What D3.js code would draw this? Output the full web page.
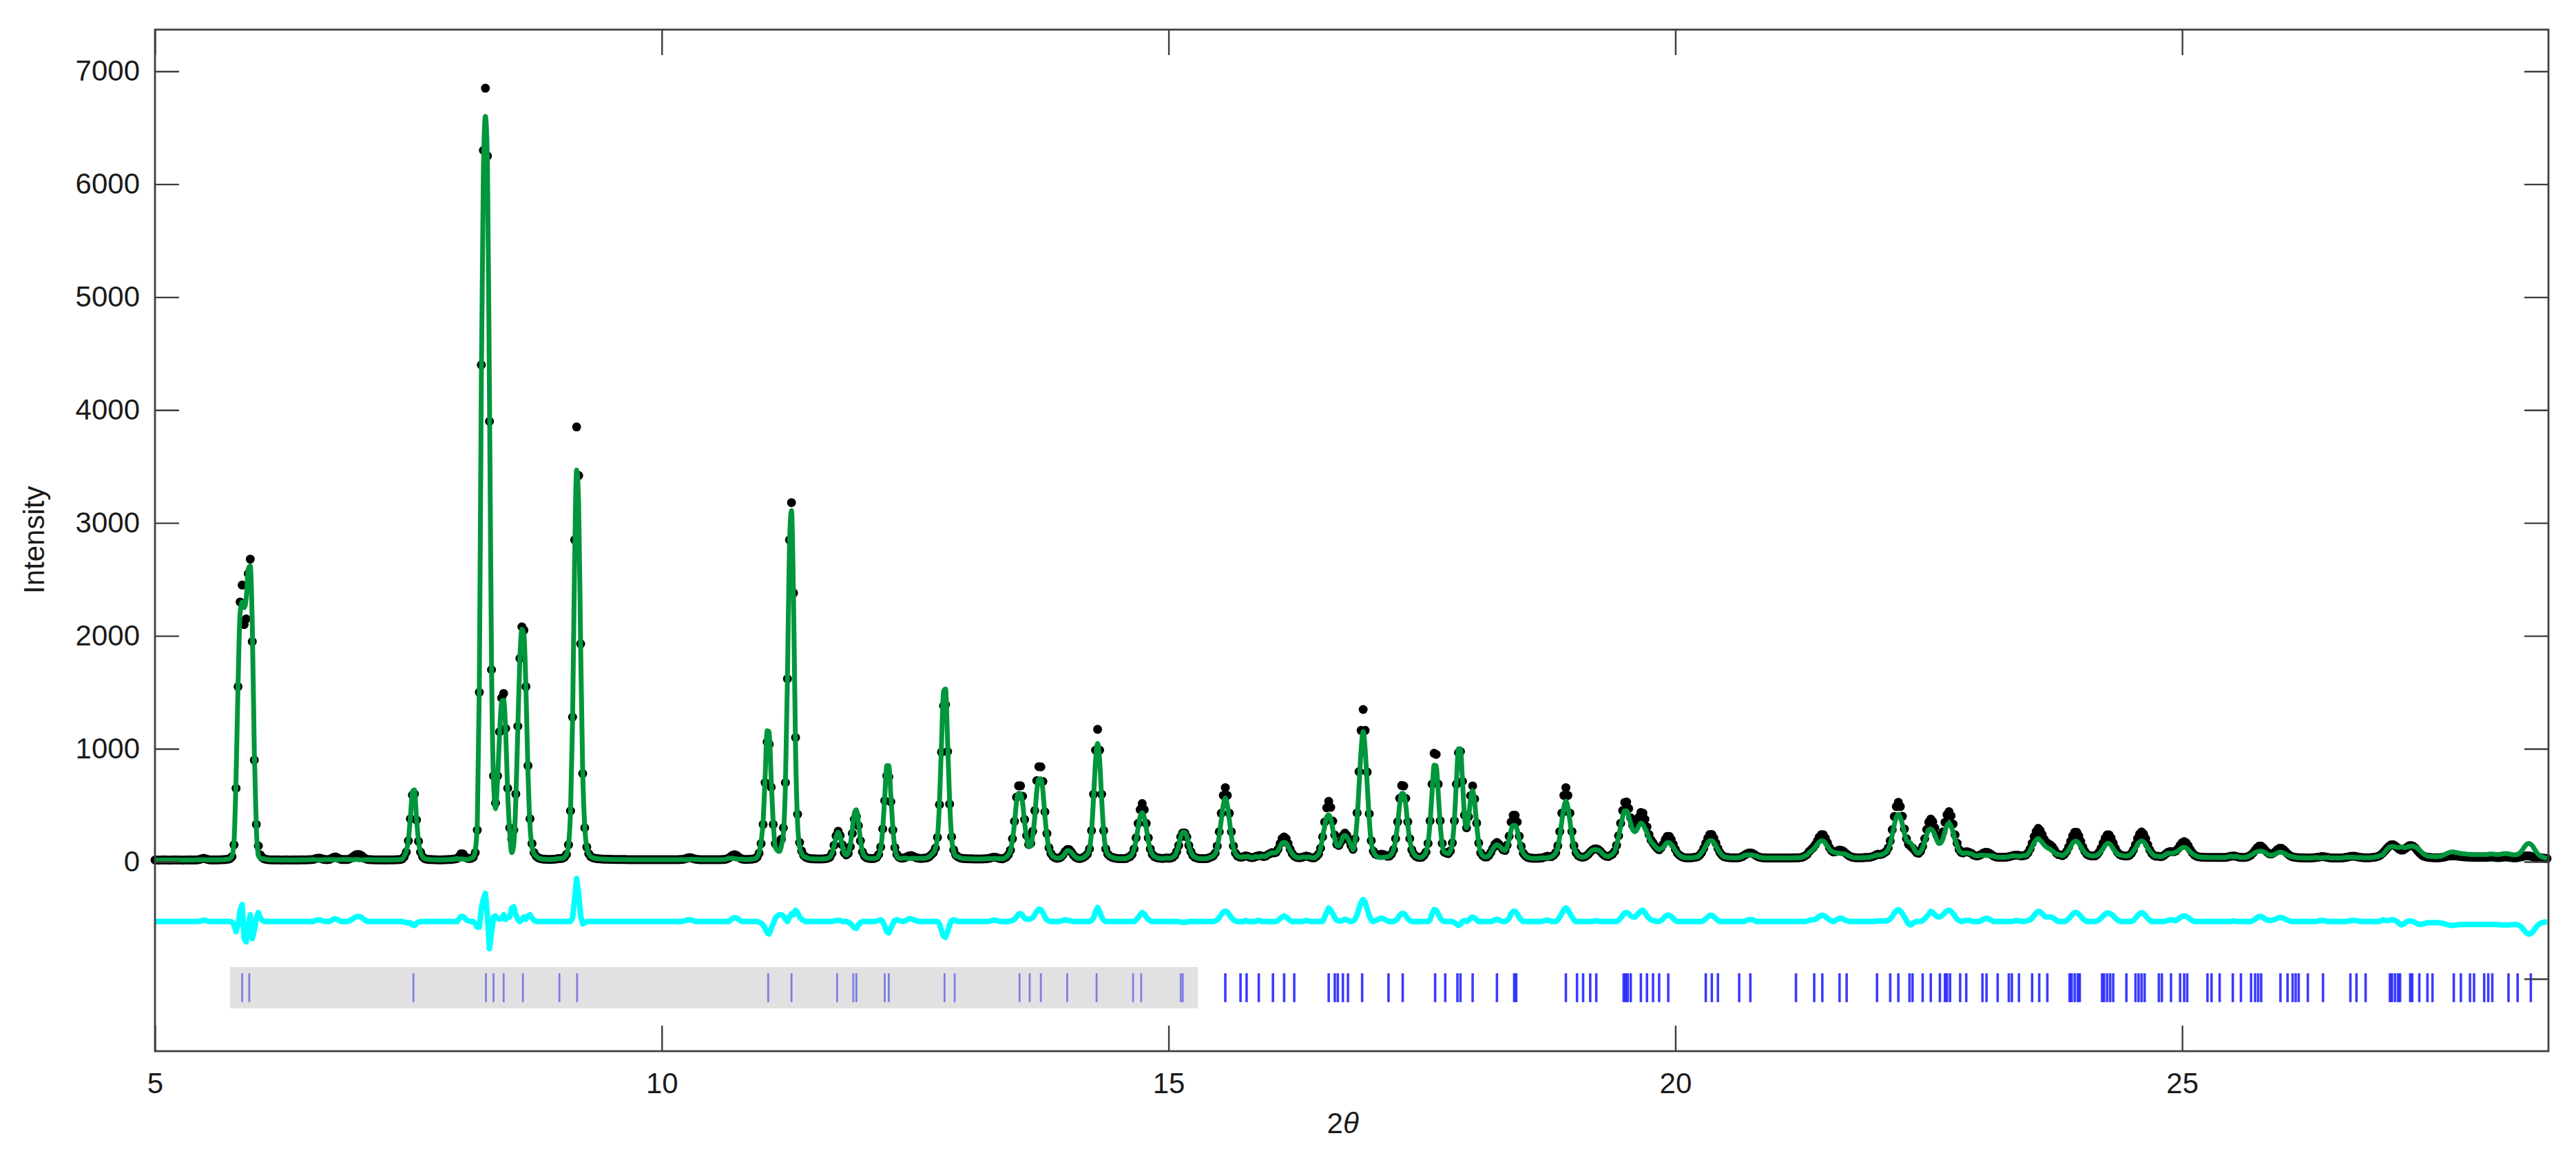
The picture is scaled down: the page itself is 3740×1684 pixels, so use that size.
<!DOCTYPE html>
<html>
<head>
<meta charset="utf-8">
<script src="https://cdn.jsdelivr.net/npm/d3@7"></script>
<style>
  body { margin: 0; background: #fff; }
  .axis text { font-family: "Liberation Sans", Arial, sans-serif; font-size: 42px; fill: #1a1a1a; }
  .axis line { stroke: #3c3c3c; stroke-width: 2.4; }
</style>
</head>
<body>
<svg id="svg_rietveld" width="3740" height="1684"></svg>
<script>
// powder pattern, 2theta grid: start + step * index
var tthStart = 5, tthStep = 0.02;

// observed intensity, one row per 0.5 deg
var yObs = [
  15,15,14,15,16,15,15,14,15,15,16,15,15,15,14,15,15,16,15,15,16,17,20,26,30,
  26,20,17,16,16,16,17,17,18,18,20,22,28,45,150,650,1550,2300,2450,2100,2150,2550,2680,1950,900,
  330,140,60,35,25,20,18,17,17,16,16,16,15,15,16,16,15,15,15,16,15,16,16,17,17,
  17,18,18,20,25,30,32,28,22,19,18,20,28,38,42,36,26,20,19,19,20,24,34,48,60,
  64,62,52,36,25,20,18,18,17,17,17,16,16,16,16,17,17,17,17,18,18,19,25,45,85,
  185,380,590,600,370,180,85,45,28,22,20,19,18,18,17,17,17,17,18,18,19,20,22,24,28,
  45,70,68,45,30,28,30,40,80,280,1500,4400,6300,6850,6250,3900,1700,760,520,760,1150,1450,1490,1180,650,
  300,200,280,600,1200,1800,2080,2050,1550,850,380,160,80,50,35,28,24,22,21,20,20,21,22,24,28,
  28,30,40,65,150,450,1280,2850,3850,3420,1930,780,300,130,70,45,35,30,27,25,24,23,22,22,21,
  21,20,20,20,19,19,19,19,18,18,18,18,18,18,18,18,18,18,18,18,18,18,18,18,18,
  18,18,18,18,18,18,18,18,18,19,20,23,28,34,36,32,25,21,19,18,18,18,18,18,18,
  18,18,18,18,18,19,20,24,32,45,58,62,55,40,28,22,20,20,21,22,24,28,40,75,160,
  330,700,1060,1040,660,330,160,150,150,200,300,700,1620,2850,3180,2380,1100,420,170,95,55,40,32,28,26,
  25,24,24,24,24,25,27,32,42,75,145,230,270,232,150,80,60,74,133,250,375,400,318,185,87,
  49,35,30,28,28,30,38,65,130,290,540,760,750,530,280,125,65,40,32,32,36,44,52,54,48,
  40,33,30,29,30,32,36,45,62,80,120,215,505,970,1380,1390,975,510,220,105,60,45,35,30,28,
  27,26,25,25,24,24,24,24,24,25,26,28,32,37,40,38,32,27,25,32,42,62,102,203,357,
  571,672,672,579,374,232,152,162,269,452,718,842,840,711,442,249,123,72,47,35,30,33,42,62,90,
  108,108,88,60,42,32,28,30,38,50,68,114,275,597,988,1172,988,597,275,114,68,50,40,34,30,
  28,27,27,27,28,37,45,64,113,211,339,461,515,461,339,211,113,64,45,37,32,30,29,30,33,
  30,32,39,53,89,144,219,255,255,219,144,89,53,39,32,28,27,27,27,28,35,42,51,76,139,
  265,429,587,656,587,429,265,139,76,51,42,40,45,52,48,40,36,38,45,52,54,50,46,50,62,
  72,80,78,82,110,160,205,220,205,160,110,72,50,40,36,36,40,46,50,46,38,34,35,48,68,
  119,220,351,477,535,481,359,236,155,144,176,229,253,232,189,144,110,202,432,798,1163,1348,1163,794,424,
  186,94,68,60,62,66,64,56,48,50,68,106,204,353,561,675,670,561,353,204,106,67,48,40,38,
  40,57,85,162,362,687,960,950,687,362,162,85,76,72,95,167,362,687,965,975,712,412,300,399,584,
  671,555,342,166,78,53,42,42,55,83,120,155,170,155,130,105,100,146,226,352,411,411,352,226,135,
  75,52,40,34,31,30,30,30,31,33,38,44,48,46,46,58,80,141,267,430,587,656,587,430,267,
  141,80,55,45,40,42,50,65,85,102,112,114,108,92,72,56,48,46,56,67,90,145,230,340,453,
  525,529,471,388,322,305,338,394,436,430,376,308,241,193,167,140,119,106,124,154,196,224,224,196,154,
  110,76,58,46,38,35,34,34,35,37,40,45,58,81,118,165,210,241,241,210,165,118,81,58,45,
  40,37,35,34,34,34,35,38,45,56,68,76,78,74,64,52,43,38,35,34,33,33,33,33,33,
  33,33,33,33,33,33,33,33,34,34,34,35,37,42,52,65,90,108,126,150,183,218,239,239,209,
  168,126,98,86,89,97,104,101,91,76,61,49,41,37,35,35,35,35,36,37,38,40,44,50,60,
  66,64,68,78,90,122,185,283,400,488,526,488,402,290,204,155,137,122,102,80,75,92,135,204,285,
  350,378,354,300,235,201,211,264,349,416,443,406,334,238,163,107,82,78,87,88,82,75,60,53,51,
  56,66,78,83,82,74,62,50,43,40,39,39,39,40,42,46,52,56,58,57,53,52,54,60,80,
  113,163,223,268,295,275,239,197,171,158,148,131,105,77,63,59,53,66,91,130,181,229,261,261,229,
  181,130,91,66,56,52,51,51,63,85,120,165,208,237,237,208,165,120,85,66,56,53,50,51,56,
  74,106,151,205,245,263,245,205,151,106,74,56,49,49,46,46,55,70,84,89,89,89,97,116,146,
  168,178,167,142,108,80,60,49,44,41,40,39,38,38,38,38,38,37,37,37,37,38,40,44,48,
  50,50,46,41,38,37,38,42,49,60,78,101,123,138,138,123,101,83,70,69,76,89,107,118,118,
  107,89,70,56,46,41,38,36,35,34,34,33,33,33,34,35,37,40,43,45,44,41,37,34,33,
  33,33,33,33,34,36,39,43,47,49,48,45,41,38,36,35,35,35,36,38,40,44,50,61,77,
  96,118,136,149,150,141,127,111,103,104,114,129,141,143,137,121,100,79,62,50,44,40,37,36,35,
  34,34,35,37,40,44,48,51,52,52,51,49,47,45,43,42,41,40,39,39,38,38,38,38,38,
  38,40,42,42,40,37,36,37,40,42,42,40,37,35,34,35,38,42,46,50,52,51,48,44,40,
  38,36,34,32,30,28
];

// difference yObs - yCalc, same grid
var yDiff = [
  0,0,0,0,0,0,0,0,0,0,0,0,0,0,0,0,0,0,0,0,0,0,3,8,12,
  10,4,0,0,0,0,0,0,0,0,0,0,0,-5,-30,-90,-30,100,150,-150,-180,-40,60,-150,-80,
  30,80,30,10,0,0,0,0,0,0,0,0,0,0,0,0,0,0,0,0,0,0,0,0,0,
  0,0,0,0,8,13,15,11,5,0,0,0,10,20,25,19,9,0,0,0,0,6,16,30,40,
  45,45,35,20,8,0,0,0,0,0,0,0,0,0,0,0,0,0,0,0,0,0,0,-5,-10,
  -10,-10,-30,-35,-15,-5,0,0,0,0,0,0,0,0,0,0,0,0,0,0,0,0,0,0,0,
  25,45,45,25,10,5,0,0,-20,-50,-50,120,200,250,50,-240,-100,40,50,30,20,30,60,20,40,
  40,120,130,60,20,0,20,40,20,50,60,30,10,0,0,0,0,0,0,0,0,0,0,0,0,
  0,0,0,0,0,0,30,200,380,250,50,-20,-10,0,0,0,0,0,0,0,0,0,0,0,0,
  0,0,0,0,0,0,0,0,0,0,0,0,0,0,0,0,0,0,0,0,0,0,0,0,0,
  0,0,0,0,0,0,0,0,0,0,0,5,10,15,15,10,5,0,0,0,0,0,0,0,0,
  0,0,0,0,0,0,0,0,0,15,28,35,30,18,5,0,0,0,0,0,0,0,0,-5,-15,
  -30,-60,-100,-110,-60,-20,30,50,60,60,50,20,0,40,70,60,100,80,40,20,10,0,0,0,0,
  0,0,0,0,0,0,0,0,0,0,5,10,10,10,0,0,0,-5,-15,-35,-55,-60,-30,-10,0,
  0,0,0,0,0,0,5,10,15,0,-40,-90,-100,-60,-20,10,15,10,5,0,5,15,25,25,18,
  10,5,0,0,0,0,0,0,0,0,0,0,-20,-80,-130,-140,-90,-30,10,15,10,0,0,0,0,
  0,0,0,0,0,0,0,0,0,0,0,0,5,10,12,10,5,0,0,0,0,0,5,10,20,
  40,65,70,55,30,20,20,25,35,60,90,110,105,80,40,15,5,0,0,0,0,0,5,10,15,
  10,10,5,0,0,0,0,0,0,0,0,0,10,30,90,125,90,40,10,0,0,0,0,0,0,
  0,0,0,0,0,0,0,0,0,15,35,60,80,65,40,20,5,0,0,0,0,0,0,0,0,
  0,0,0,0,0,0,-5,-5,-5,-5,0,0,0,0,0,0,0,0,0,0,0,0,0,5,15,
  35,60,85,92,85,60,35,15,5,0,0,0,0,10,0,0,0,0,0,10,10,0,0,0,0,
  0,0,0,0,10,25,40,50,40,25,10,0,0,0,0,0,0,5,10,5,0,0,0,0,0,
  0,0,40,80,120,100,70,35,10,5,5,10,20,15,5,0,5,20,60,120,170,195,170,110,50,
  15,0,10,15,25,30,25,15,5,0,0,0,10,25,55,70,70,55,25,10,0,0,0,0,0,
  0,0,0,0,15,70,105,100,70,30,10,0,0,0,0,0,-10,-20,-35,-25,0,10,0,10,30,
  40,30,15,0,0,0,0,0,0,0,5,15,20,15,5,0,0,10,30,70,90,90,70,35,15,
  0,0,0,0,0,0,0,0,0,0,5,10,12,8,0,0,0,15,40,70,105,120,105,70,40,
  15,0,0,0,0,0,0,0,0,0,5,8,5,0,0,0,0,0,0,0,0,0,10,30,55,
  75,80,70,50,40,40,55,75,95,100,80,50,30,15,10,5,0,0,10,25,45,55,55,45,25,
  10,0,0,0,0,0,0,0,0,0,0,0,0,0,10,25,40,55,55,40,25,10,0,0,0,
  0,0,0,0,0,0,0,0,0,0,10,15,18,15,10,0,0,0,0,0,0,0,0,0,0,
  0,0,0,0,0,0,0,0,0,0,0,0,0,0,0,5,10,15,15,20,30,45,55,55,45,
  30,15,5,0,10,20,30,30,20,10,5,0,0,0,0,0,0,0,0,0,0,0,0,0,5,
  5,5,5,5,5,10,25,45,75,95,105,95,70,40,10,-20,-30,-20,-5,0,0,0,10,25,45,
  65,90,80,60,45,40,45,60,80,95,100,90,70,45,20,10,0,5,10,10,10,5,0,0,0,
  0,10,20,28,28,20,10,0,0,0,0,0,0,0,0,0,0,5,8,8,5,0,0,5,10,
  15,30,55,75,90,85,70,50,40,40,40,35,25,10,0,0,0,0,10,25,45,65,80,80,65,
  45,25,10,0,0,0,0,0,5,15,30,50,65,75,75,65,50,30,15,5,0,0,0,0,0,
  0,10,30,50,70,80,70,50,30,10,0,0,0,0,0,0,0,5,10,15,15,10,10,20,35,
  45,50,45,35,20,10,0,0,0,0,0,0,0,0,0,0,0,0,0,0,0,0,0,0,0,
  5,5,0,0,0,0,0,0,0,0,10,20,35,45,45,35,20,15,10,10,15,20,30,35,35,
  30,20,12,5,0,0,0,0,0,0,0,0,0,0,0,0,0,5,8,10,8,5,0,0,0,
  0,0,0,0,0,0,0,5,8,10,10,8,5,0,0,0,0,0,0,0,0,0,0,5,15,
  10,10,10,15,15,10,0,-15,-30,-25,-10,0,5,5,0,-10,-20,-25,-25,-20,-15,-10,-10,-10,-10,
  -10,-10,-12,-14,-18,-24,-28,-32,-34,-34,-31,-29,-27,-27,-27,-26,-25,-25,-25,-25,-26,-26,-26,-26,-26,
  -26,-26,-26,-26,-26,-27,-28,-29,-30,-30,-30,-30,-29,-27,-26,-27,-32,-43,-62,-85,-103,-111,-107,-91,-65,
  -42,-24,-14,-8,-4,-2
];

// reflection positions (2theta)
var hklPhase1 = [5.86, 5.93, 7.55, 8.265, 8.34, 8.44, 8.63, 8.99, 9.165, 11.05, 11.28, 11.73, 11.89, 11.92,
  12.20, 12.24, 12.79, 12.89, 13.53, 13.63, 13.74, 14.00, 14.29, 14.65, 14.73, 15.12, 15.14];
var hklPhase2 = [15.56, 15.71, 15.77, 15.89, 16.03, 16.14, 16.24, 16.58, 16.64, 16.67, 16.72, 16.77, 16.91,
  17.17, 17.31, 17.63, 17.73, 17.85, 17.88, 18.00, 18.24, 18.41, 18.43, 18.92, 19.03, 19.09, 19.16, 19.22,
  19.49, 19.51, 19.53, 19.56, 19.66, 19.72, 19.78, 19.84, 19.93, 20.30, 20.36, 20.42, 20.63, 20.74,
  21.19, 21.37, 21.45, 21.62, 21.69, 21.99, 22.12, 22.20, 22.31, 22.34, 22.44, 22.52, 22.61, 22.66, 22.68,
  22.71, 22.81, 22.87, 23.03, 23.07, 23.18, 23.29, 23.32, 23.39, 23.52, 23.59, 23.67, 23.89, 23.91, 23.94,
  23.97, 23.99, 24.21, 24.23, 24.26, 24.29, 24.32, 24.45, 24.54, 24.57, 24.60, 24.63, 24.77, 24.80, 24.89,
  24.98, 25.02, 25.05, 25.25, 25.29, 25.37, 25.50, 25.58, 25.68, 25.72, 25.75, 25.78, 25.97, 26.04, 26.09,
  26.12, 26.15, 26.24, 26.39, 26.66, 26.72, 26.81, 27.05, 27.07, 27.10, 27.13, 27.15, 27.25, 27.27, 27.34,
  27.42, 27.47, 27.68, 27.75, 27.84, 27.88, 27.98, 28.02, 28.06, 28.22, 28.31, 28.44];

var xTicks = [5, 10, 15, 20, 25];
var yTicks = [0, 1000, 2000, 3000, 4000, 5000, 6000, 7000];
var diffOffset = -530;          // difference curve shifted below zero
var hklLevel = [-988, -1244];   // y range of the reflection bars
var hklBoxY = [-933, -1299];
var hklBoxX = [5.74, 15.29];
var hklMark = -1037;

var svg = d3.select("#svg_rietveld"),
    margin = {top: 43, right: 40, bottom: 158, left: 225},
    width = 3740 - margin.left - margin.right,
    height = 1684 - margin.top - margin.bottom,
    g = svg.append("g").attr("transform", "translate(" + margin.left + "," + margin.top + ")");

var x = d3.scaleLinear().domain([5, 28.614]).range([0, width]);
var y = d3.scaleLinear().domain([-1678, 7369]).range([height, 0]);

var data = yObs.map(function(v, i) {
  return {tth: tthStart + i * tthStep, obs: v, calc: v - yDiff[i], diff: yDiff[i]};
});

// grey band behind first phase reflections
g.append("rect")
  .attr("x", x(hklBoxX[0]))
  .attr("width", x(hklBoxX[1]) - x(hklBoxX[0]))
  .attr("y", y(hklBoxY[0]))
  .attr("height", y(hklBoxY[1]) - y(hklBoxY[0]))
  .attr("fill", "#e1e1e1");

g.selectAll(".hkl1")
  .data(hklPhase1)
  .enter().append("line")
    .attr("class", "hkl1")
    .attr("x1", function(d) { return x(d); })
    .attr("x2", function(d) { return x(d); })
    .attr("y1", y(hklLevel[0]))
    .attr("y2", y(hklLevel[1]))
    .attr("stroke", "#5c5ce6")
    .attr("stroke-opacity", 0.75)
    .attr("stroke-width", 2.8);

g.selectAll(".hkl2")
  .data(hklPhase2)
  .enter().append("line")
    .attr("class", "hkl2")
    .attr("x1", function(d) { return x(d); })
    .attr("x2", function(d) { return x(d); })
    .attr("y1", y(hklLevel[0]))
    .attr("y2", y(hklLevel[1]))
    .attr("stroke", "#0a0aff")
    .attr("stroke-opacity", 0.8)
    .attr("stroke-width", 3.6);

// difference curve
var diffline = d3.line()
  .x(function(d) { return x(d.tth); })
  .y(function(d) { return y(d.diff + diffOffset); });

g.append("path")
  .datum(data)
  .attr("fill", "none")
  .attr("stroke", "#00ffff")
  .attr("stroke-width", 8)
  .attr("stroke-linejoin", "round")
  .attr("d", diffline);

// observed points
g.selectAll(".obs")
  .data(data)
  .enter().append("circle")
    .attr("class", "obs")
    .attr("cx", function(d) { return x(d.tth); })
    .attr("cy", function(d) { return y(d.obs); })
    .attr("r", 6.5)
    .attr("fill", "#000");

// calculated profile
var calcline = d3.line()
  .curve(d3.curveMonotoneX)
  .x(function(d) { return x(d.tth); })
  .y(function(d) { return y(d.calc); });

g.append("path")
  .datum(data)
  .attr("fill", "none")
  .attr("stroke", "#00963c")
  .attr("stroke-width", 7)
  .attr("stroke-linejoin", "round")
  .attr("d", calcline);

// axes, ticks pointing inwards on all four sides
g.append("g")
  .attr("class", "axis")
  .attr("transform", "translate(0," + height + ")")
  .call(d3.axisBottom(x).tickValues(xTicks).tickSize(-37).tickPadding(31))
  .select(".domain").remove();

g.append("g")
  .attr("class", "axis")
  .call(d3.axisTop(x).tickValues(xTicks).tickSize(-37).tickFormat(""))
  .select(".domain").remove();

g.append("g")
  .attr("class", "axis")
  .call(d3.axisLeft(y).tickValues(yTicks).tickFormat(d3.format("d")).tickSize(-35).tickPadding(22))
  .select(".domain").remove();

g.append("g")
  .attr("class", "axis")
  .attr("transform", "translate(" + width + ",0)")
  .call(d3.axisRight(y).tickValues(yTicks.concat([hklMark])).tickSize(-35).tickFormat(""))
  .select(".domain").remove();

g.append("rect")
  .attr("width", width)
  .attr("height", height)
  .attr("fill", "none")
  .attr("stroke", "#404040")
  .attr("stroke-width", 2.8);

// axis titles
svg.append("text")
  .attr("transform", "translate(64," + (margin.top + y(2850)) + ") rotate(-90)")
  .attr("text-anchor", "middle")
  .style("font", "42px 'Liberation Sans', Arial, sans-serif")
  .style("fill", "#1a1a1a")
  .text("Intensity");

var xt = svg.append("text")
  .attr("x", margin.left + x(16.72))
  .attr("y", 1645)
  .attr("text-anchor", "middle")
  .style("font", "42px 'Liberation Sans', Arial, sans-serif")
  .style("fill", "#1a1a1a");
xt.append("tspan").text("2");
xt.append("tspan").style("font-style", "italic").text("\u03b8");
</script>
</body>
</html>
